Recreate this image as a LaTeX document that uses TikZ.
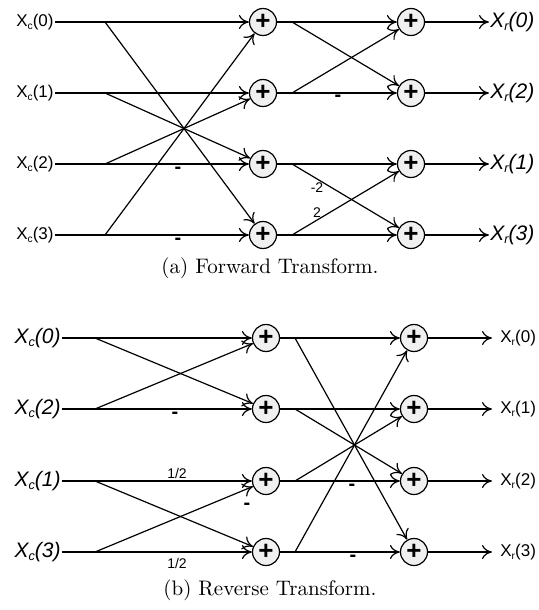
\documentclass[tikz,border=0pt]{standalone}
\usepackage{fontspec}
\newfontfamily\arial{Liberation Sans}
\usetikzlibrary{arrows.meta}
\newcommand\lowsub[1]{\raisebox{-0.3ex}{\scalebox{0.6}{#1}}}
\begin{document}
\begin{tikzpicture}[x=0.5pt,y=-0.5pt,
  wire/.style={line width=0.6pt},
  arr/.style={wire,-{To[length=5pt,width=7pt]}},
  adder/.style={circle,draw,line width=0.6pt,fill=gray!12,minimum size=13.5pt,inner sep=0pt,
    font=\arial\fontsize{13}{13}\selectfont\bfseries},
  uplabin/.style={anchor=east,inner sep=0.5pt,font=\arial\fontsize{8.5}{10}\selectfont},
  itlabin/.style={anchor=east,inner sep=0.5pt,font=\arial\itshape\fontsize{10.5}{12}\selectfont},
  itlabout/.style={anchor=west,inner sep=0.5pt,font=\arial\itshape\fontsize{10.5}{12}\selectfont},
  uplabout/.style={anchor=west,inner xsep=4pt,inner ysep=0.5pt,font=\arial\fontsize{8.5}{10}\selectfont},
  sign/.style={inner sep=0pt,font=\arial\bfseries\fontsize{10}{10}\selectfont},
  num/.style={inner sep=0pt,font=\arial\fontsize{7}{8}\selectfont},
  capt/.style={inner sep=0pt,font=\fontsize{10.5}{12}\selectfont}
]
\useasboundingbox (0,0) rectangle (539,610);

% ---------------- (a) Forward Transform ----------------
\foreach \i/\y/\o in {0/22/0,1/93/2,2/164/1,3/235/3} {
  \node[uplabin] (ti\i) at (55,\y) {X\lowsub{c}(\i)};
  \coordinate (tb\i) at (105,\y);
  \node[adder] (ta\i) at (263,\y) {+};
  \coordinate (tq\i) at (292,\y);
  \node[adder] (tc\i) at (411,\y) {+};
  \node[itlabout] (to\i) at (489,\y) {X\lowsub{r}(\o)};
  \draw[arr] (ti\i.east) -- (ta\i);
  \draw[arr] (ta\i) -- (tc\i);
  \draw[arr] (tc\i) -- (to\i.west);
}
\draw[arr] (tb0) -- (ta3);
\draw[arr] (tb1) -- (ta2);
\draw[arr] (tb2) -- (ta1);
\draw[arr] (tb3) -- (ta0);
\draw[arr] (tq0) -- (tc1);
\draw[arr] (tq1) -- (tc0);
\draw[arr] (tq2) -- (tc3);
\draw[arr] (tq3) -- (tc2);
\node[sign] (ts1) at (178,170) {-};
\node[sign] (ts2) at (178,241) {-};
\node[sign] (ts3) at (338,98) {-};
\node[num] (tn1) at (317,188) {-2};
\node[num] (tn2) at (317,213) {2};
\node[capt] (capa) at (270,268) {(a) Forward Transform.};

% ---------------- (b) Reverse Transform ----------------
\foreach \i/\y/\n in {0/338/0,1/409/2,2/481/1,3/552/3} {
  \node[itlabin] (bi\i) at (62,\y) {X\lowsub{c}(\n)};
  \coordinate (bb\i) at (95,\y);
  \node[adder] (ba\i) at (266,\y) {+};
  \coordinate (bq\i) at (295,\y);
  \node[adder] (bc\i) at (414,\y) {+};
  \node[uplabout] (bo\i) at (492,\y) {X\lowsub{r}(\i)};
  \draw[arr] (bi\i.east) -- (ba\i);
  \draw[arr] (ba\i) -- (bc\i);
  \draw[arr] (bc\i) -- (bo\i.west);
}
\draw[arr] (bb0) -- (ba1);
\draw[arr] (bb1) -- (ba0);
\draw[arr] (bb2) -- (ba3);
\draw[arr] (bb3) -- (ba2);
\draw[arr] (bq0) -- (bc3);
\draw[arr] (bq1) -- (bc2);
\draw[arr] (bq2) -- (bc1);
\draw[arr] (bq3) -- (bc0);
\node[sign] (bs1) at (175,415) {-};
\node[num] (bn1) at (177,473) {1/2};
\node[sign] (bs2) at (247,506) {-};
\node[num] (bn2) at (177,563) {1/2};
\node[sign] (bs3) at (352,487) {-};
\node[sign] (bs4) at (353,558) {-};
\node[capt] (capb) at (270,590) {(b) Reverse Transform.};
\end{tikzpicture}
\end{document}
